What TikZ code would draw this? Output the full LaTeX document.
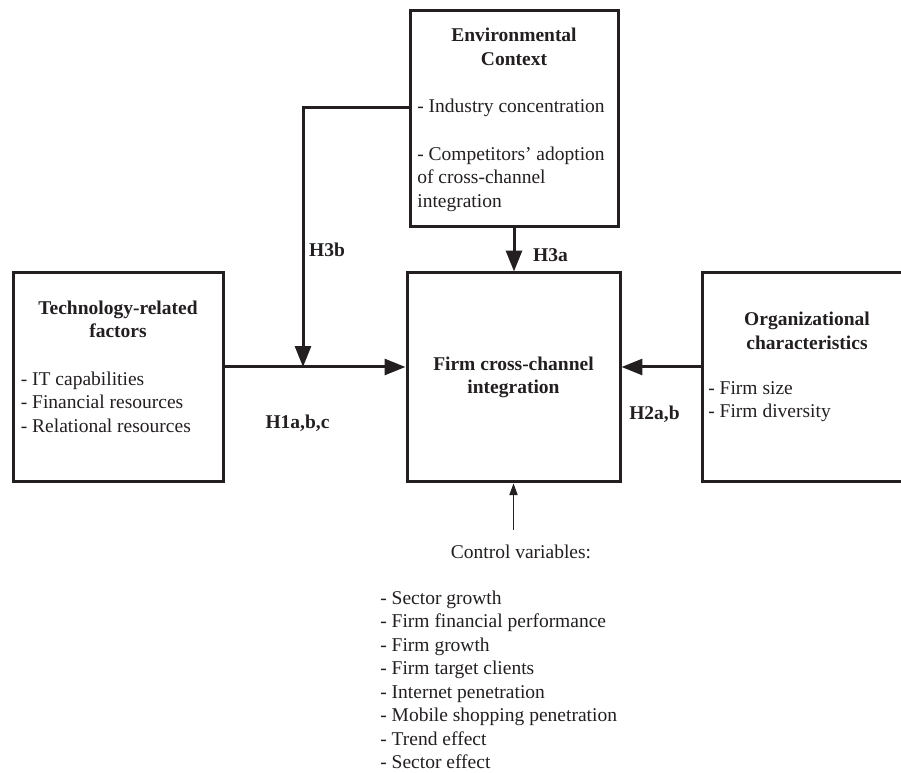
\documentclass[tikz,border=0pt]{standalone}
\usepackage{fontspec}
\setmainfont{Liberation Serif}
\usetikzlibrary{arrows.meta,positioning}
\usepackage{xcolor}
\definecolor{ink}{HTML}{231F20}
\tikzset{
  >={Triangle[length=12.5pt,width=9.5pt]},
  every node/.style={font=\fontsize{11.7}{14.1}\selectfont,text=ink,inner sep=0pt},
  box/.style={draw=ink,line width=1.8pt,align=center,font=\fontsize{11.7}{14.1}\selectfont\bfseries},
  title/.style={align=center,font=\fontsize{11.7}{14.1}\selectfont\bfseries},
  item/.style={align=left,anchor=west},
  hyp/.style={font=\fontsize{11.7}{14.1}\selectfont\bfseries},
  arrow/.style={->,line width=1.8pt,draw=ink},
  ctrlarrow/.style={-{Triangle[length=7pt,width=5pt]},line width=0.6pt,draw=ink},
}

\begin{document}
\begin{tikzpicture}[x=0.6pt,y=-0.6pt]
\useasboundingbox (0,0) rectangle (901,773);
\clip (0,0) rectangle (901,773);

% boxes
\node[box,minimum width=124.8pt,minimum height=129.6pt] (env) at (514,119) {};
\node[box,minimum width=126pt,minimum height=125.4pt] (tech) at (118,377.5) {};
\node[box,minimum width=127.8pt,minimum height=125.4pt] (firm) at (513.5,377.5) {Firm cross-channel\\integration};
\node[box,minimum width=126pt,minimum height=125.4pt] (org) at (807,377.5) {};

% box contents
\node[title] (envt) at (514,47) {Environmental\\Context};
\node[item] (envi1) at (417,108) {- Industry concentration};
\node[item] (envi2) at (417,179) {- Competitors' adoption\\of cross-channel\\integration};
\node[title] (techt) at (118,319.5) {Technology-related\\factors};
\node[item] (techi) at (20.5,402) {- IT capabilities\\- Financial resources\\- Relational resources};
\node[title] (orgt) at (807,331) {Organizational\\characteristics};
\node[item] (orgi) at (708,401.5) {- Firm size\\- Firm diversity};

% hypotheses
\node[hyp] (h3b) at (327,250) {H3b};
\node[hyp] (h3a) at (550.5,255) {H3a};
\node[hyp] (h1) at (297.5,423) {H1a,b,c};
\node[hyp] (h2) at (654.5,414) {H2a,b};

% controls
\node (ctrl) at (521,552) {Control variables:};
\node[item] (ctrli) at (380,680) {- Sector growth\\- Firm financial performance\\- Firm growth\\- Firm target clients\\- Internet penetration\\- Mobile shopping penetration\\- Trend effect\\- Sector effect};

% connectors
\coordinate (j) at (303,367);
\coordinate (ctop) at (513.5,530);
\draw[arrow] (tech.east |- j) -- (firm.west |- j);
\draw[arrow] (org.west |- j) -- (firm.east |- j);
\draw[arrow] (env.west |- envi1) -| (j);
\draw[arrow] (env.south) -- (env.south |- firm.north);
\draw[ctrlarrow] (ctop) -- (firm.south);

\end{tikzpicture}
\end{document}
